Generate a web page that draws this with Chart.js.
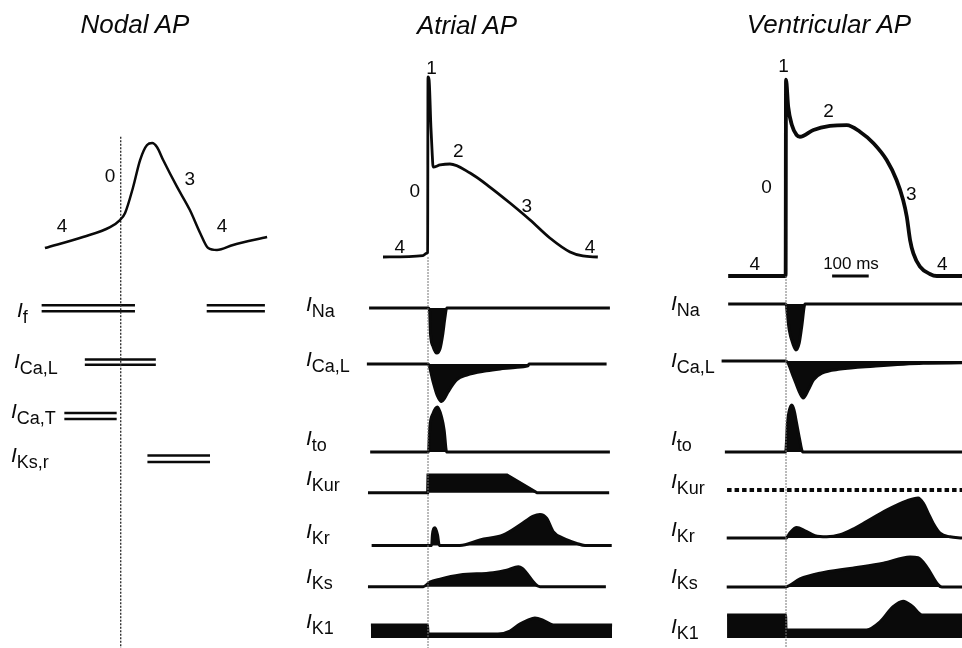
<!DOCTYPE html>
<html>
<head>
<meta charset="utf-8">
<script src="https://cdn.jsdelivr.net/npm/chart.js@4/dist/chart.umd.min.js"></script>
<style>
html, body { margin: 0; padding: 0; background: #fff; }
#wrap { position: relative; width: 962px; height: 648px; overflow: hidden;
  font-family: "Liberation Sans", Arial, Helvetica, sans-serif; color: #0a0a0a; }
#wrap canvas { position: absolute; left: 0; top: 0; }
.t { position: absolute; white-space: nowrap; line-height: 1; }
.c { width: 200px; text-align: center; }
.sub { font-size: 18px; font-style: normal; position: relative; top: 6px; }
</style>
</head>
<body>
<div id="wrap"><canvas id="c" width="962" height="648"></canvas></div>
<script>
// action potentials: time in ms (0 = upstroke), membrane potential in mV
const nodalT = [-207, -103, -29, -2, 12, 34, 53, 72, 86, 99, 116, 154, 189, 217, 239, 263, 307, 400];
const nodalV = [-58.7, -51.5, -45, -40.4, -35.8, -18.8, -1.2, 8.6, 9.9, 7.3, -1.2, -18.8, -33.9, -48.9, -58.7, -60, -56.7, -51.5];

const atrialT = [-123, -14, -4, -1, 0, 3, 8, 11, 14, 33, 60, 115, 169, 224, 279, 333, 388, 423, 464];
const atrialV = [-80, -79, -77.5, -77, 45, 43, 10, -5.7, -17.5, -16.1, -15.4, -21.7, -31.4, -42.5, -54.3, -66.8, -76.5, -79.3, -80];

const ventT = [-158, -1, 0, 6, 16, 29, 38, 75, 120, 166, 202, 239, 275, 302, 320, 330, 339, 348, 366, 393, 412, 481];
const ventV = [-85, -85, 39, 21.9, 10.3, 4, 2.9, 7.2, 9.7, 10.3, 6.1, -1.2, -11.8, -24.4, -37, -47.6, -62.3, -70.7, -79.1, -83.7, -85, -85];

// nodal currents: time windows (ms) when each current is active
const nodalNames = ['f', 'Ca,L', 'Ca,T', 'Ks,r'];
const nodalWindows = [[[-216, 39], [235, 394]], [[-98, 96]], [[-154, -11]], [[73, 244]]];

// atrial currents: [t ms, relative amplitude] (inward < 0)
const atrialNames = ['Na', 'Ca,L', 'to', 'Kur', 'Kr', 'Ks', 'K1'];
const aNa = [[-161, 0], [0, 0], [4, -0.05], [7, -0.6], [14, -0.86], [24, -1], [33, -0.9], [40, -0.6], [46, -0.23], [51, 0], [497, 0]];
const aCaL = [[-167, 0], [0, 0], [14, -0.47], [25, -0.82], [37, -0.99], [44, -0.92], [55, -0.73], [78, -0.42], [106, -0.29], [160, -0.18], [197, -0.13], [238, -0.09], [273, -0.05], [276, 0], [488, 0]];
const aTo = [[-158, 0], [1, 0], [5, 0.56], [14, 0.86], [26, 1], [37, 0.78], [44, 0.49], [51, 0], [497, 0]];
const aKur = [[-164, 0], [-1, 0], [0, 1], [216, 1], [298, 0], [495, 0]];
const aKr = [[-154, 0], [10, 0], [12, 0.34], [19, 0.57], [26, 0.34], [31, 0], [87, 0], [142, 0.18], [206, 0.34], [251, 0.66], [288, 0.95], [306, 1], [324, 0.88], [342, 0.45], [370, 0.23], [406, 0.07], [429, 0], [502, 0]];
const aKs = [[-164, 0], [-13, 0], [5, 0.23], [33, 0.38], [87, 0.58], [178, 0.7], [215, 0.83], [247, 1], [257, 0.93], [306, 0], [486, 0]];
const aK1 = [[-156, 1], [-1, 1], [0, 0.3], [191, 0.3], [224, 0.54], [251, 1.08], [273, 1.38], [292, 1.54], [314, 1.38], [342, 1], [503, 1]];

// ventricular currents
const ventNames = ['Na', 'Ca,L', 'to', 'Kur', 'Kr', 'Ks', 'K1'];
const vNa = [[-158, 0], [0, 0], [3, -0.17], [9, -0.57], [20, -0.89], [27, -1], [36, -0.85], [43, -0.49], [52, 0], [481, 0]];
const vCaL = [[-176, 0], [0, 0], [20, -0.42], [38, -0.87], [47, -1], [61, -0.78], [75, -0.51], [98, -0.33], [148, -0.22], [239, -0.14], [375, -0.06], [481, -0.05]];
const vTo = [[-167, 0], [-1, 0], [4, 0.61], [8, 0.85], [16, 1], [22, 0.89], [29, 0.61], [36, 0.32], [46, 0], [481, 0]];
const vKur = [[-161, 0], [481, 0]];
const vKr = [[-162, 0], [0, 0], [11, 0.13], [29, 0.26], [52, 0.18], [79, 0.06], [111, 0.03], [148, 0.08], [189, 0.25], [220, 0.41], [275, 0.7], [330, 0.93], [361, 1], [375, 0.87], [388, 0.63], [402, 0.37], [421, 0.12], [448, 0.03], [481, 0]];
const vKs = [[-162, 0], [-3, 0], [38, 0.27], [93, 0.46], [175, 0.62], [266, 0.79], [339, 1], [361, 0.98], [384, 0.68], [416, 0.07], [426, 0], [481, 0]];
const vK1 = [[-161, 1], [-1, 1], [0, 0.35], [220, 0.35], [257, 0.7], [292, 1.35], [320, 1.6], [344, 1.39], [372, 1], [481, 1]];

// phase numbers [label, t, mV]
const nodalPhases = [['4', -160, -43.7], ['0', -29, -11], ['3', 189, -13], ['4', 277, -43.7]];
const atrialPhases = [['1', 10, 52], ['2', 83, -5.7], ['0', -36, -33.5], ['3', 270, -43.9], ['4', -77, -72.8], ['4', 443, -72.8]];
const ventPhases = [['1', -7, 48.2], ['2', 116, 19.8], ['0', -53, -28.6], ['3', 342, -32.8], ['4', -85, -77], ['4', 427, -77]];
const scaleBar = [126, 226]; // 100 ms

// ---------- layout ----------
const W = 962, H = 648;
const K = 0.366; // px per ms
const INK = '#0a0a0a';
const scales = {};
const datasets = [];

function addX(id, upstrokePx) {
  scales[id] = { type: 'linear', display: false, bounds: 'data', min: -upstrokePx / K, max: (W - upstrokePx) / K };
}
// value v0 sits at pixel p0, pxPerUnit pixels per unit
function addY(id, v0, p0, pxPerUnit) {
  const top = v0 + p0 / pxPerUnit;
  scales[id] = { type: 'linear', display: false, bounds: 'data', min: top - H / pxPerUnit, max: top };
}
function line(x, y, pts, o) {
  datasets.push(Object.assign({
    type: 'line', xAxisID: x, yAxisID: y,
    data: pts.map(p => ({ x: p[0], y: p[1] })),
    borderColor: INK, backgroundColor: INK, borderWidth: 3,
    pointRadius: 0, fill: false, cubicInterpolationMode: 'monotone'
  }, o || {}));
}
const zip = (t, v) => t.map((x, i) => [x, v[i]]);

// nodal column
addX('xN', 120.7);
addY('apN', -60, 250, 1.53);
line('xN', 'apN', zip(nodalT, nodalV), { borderWidth: 2.5 });
line('xN', 'apN', [[0, 14], [0, scales.apN.min]], { borderWidth: 1.4, borderDash: [2, 1.5], borderColor: '#333', cubicInterpolationMode: 'default' });
const nodalRows = [[311.3, 6], [364.7, 5.2], [419, 6], [462, 6.5]];
nodalWindows.forEach((wins, r) => {
  const id = 'nN' + r;
  addY(id, 0, nodalRows[r][0], nodalRows[r][1]);
  wins.forEach(w => {
    line('xN', id, [[w[0], 0], [w[1], 0]], { borderWidth: 2.4, cubicInterpolationMode: 'default' });
    line('xN', id, [[w[0], 1], [w[1], 1]], { borderWidth: 2.4, cubicInterpolationMode: 'default' });
  });
});

// atrial column
addX('xA', 428);
addY('apA', -80, 257, 1.44);
line('xA', 'apA', [[0, -80], [0, scales.apA.min]], { borderWidth: 1, borderDash: [2, 1], borderColor: '#777', cubicInterpolationMode: 'default' });
line('xA', 'apA', zip(atrialT, atrialV), { borderWidth: 2.8 });
const atrialRows = [[308, 45], [364, 38], [452, 45], [492.7, 17.7], [545.5, 31], [586.7, 20], [638, 13]];
[aNa, aCaL, aTo, aKur, aKr, aKs, aK1].forEach((s, r) => {
  const id = 'aR' + r;
  addY(id, 0, atrialRows[r][0], atrialRows[r][1]);
  line('xA', id, s, { fill: 'origin', cubicInterpolationMode: r === 3 ? 'default' : 'monotone' });
});

// ventricular column
addX('xV', 786);
addY('apV', -85, 276, 1.584);
line('xV', 'apV', [[0, -85], [0, scales.apV.min]], { borderWidth: 1, borderDash: [2, 1], borderColor: '#777', cubicInterpolationMode: 'default' });
line('xV', 'apV', zip(ventT, ventV), { borderWidth: 3.8 });
line('xV', 'apV', [[scaleBar[0], -85], [scaleBar[1], -85]], { borderWidth: 3, cubicInterpolationMode: 'default' });
const ventRows = [[304, 46], [361, 37], [452, 47], [490, 1], [538, 40], [587, 30], [638, 23]];
[vNa, vCaL, vTo, vKur, vKr, vKs, vK1].forEach((s, r) => {
  const id = 'vR' + r;
  addY(id, 0, ventRows[r][0], ventRows[r][1]);
  if (r === 3) line('xV', id, s, { borderWidth: 4, borderDash: [4.5, 3], cubicInterpolationMode: 'default' });
  else line('xV', id, s, { fill: 'origin' });
});

const chart = new Chart(document.getElementById('c'), {
  type: 'line',
  data: { datasets: datasets },
  options: {
    responsive: false,
    animation: false,
    layout: { padding: 0 },
    scales: scales,
    plugins: { legend: { display: false }, tooltip: { enabled: false }, title: { display: false } }
  }
});

// ---------- text ----------
const wrap = document.getElementById('wrap');
function put(html, x, baseline, size, center, italic) {
  const d = document.createElement('div');
  d.className = 't' + (center ? ' c' : '');
  d.style.fontSize = size + 'px';
  d.style.left = (center ? x - 100 : x) + 'px';
  d.style.top = (baseline - 0.8465 * size) + 'px';
  if (italic) d.style.fontStyle = 'italic';
  d.innerHTML = html;
  wrap.appendChild(d);
}
put('Nodal AP', 135, 33, 26, true, true);
put('Atrial AP', 467, 34, 26, true, true);
put('Ventricular AP', 829, 33, 26, true, true);

function phases(list, xId, yId) {
  list.forEach(p => {
    const x = chart.scales[xId].getPixelForValue(p[1]);
    const y = chart.scales[yId].getPixelForValue(p[2]);
    put(p[0], x, y + 0.358 * 19, 19, true, false);
  });
}
phases(nodalPhases, 'xN', 'apN');
phases(atrialPhases, 'xA', 'apA');
phases(ventPhases, 'xV', 'apV');
put('100 ms', chart.scales.xV.getPixelForValue(177.6), chart.scales.apV.getPixelForValue(-76.8) + 0.358 * 17, 17, true, false);

function rowLabels(names, xs, baselines) {
  names.forEach((n, i) => put('<i>I</i><span class="sub">' + n + '</span>', xs[i], baselines[i], 21, false, false));
}
rowLabels(nodalNames, [17, 14, 11, 11], [317, 368, 418, 462]);
rowLabels(atrialNames, [306, 306, 306, 306, 306, 306, 306], [311, 366, 445, 485, 538, 583, 628]);
rowLabels(ventNames, [671, 671, 671, 671, 671, 671, 671], [310, 367, 445, 488, 536, 583, 633]);
</script>
</body>
</html>
